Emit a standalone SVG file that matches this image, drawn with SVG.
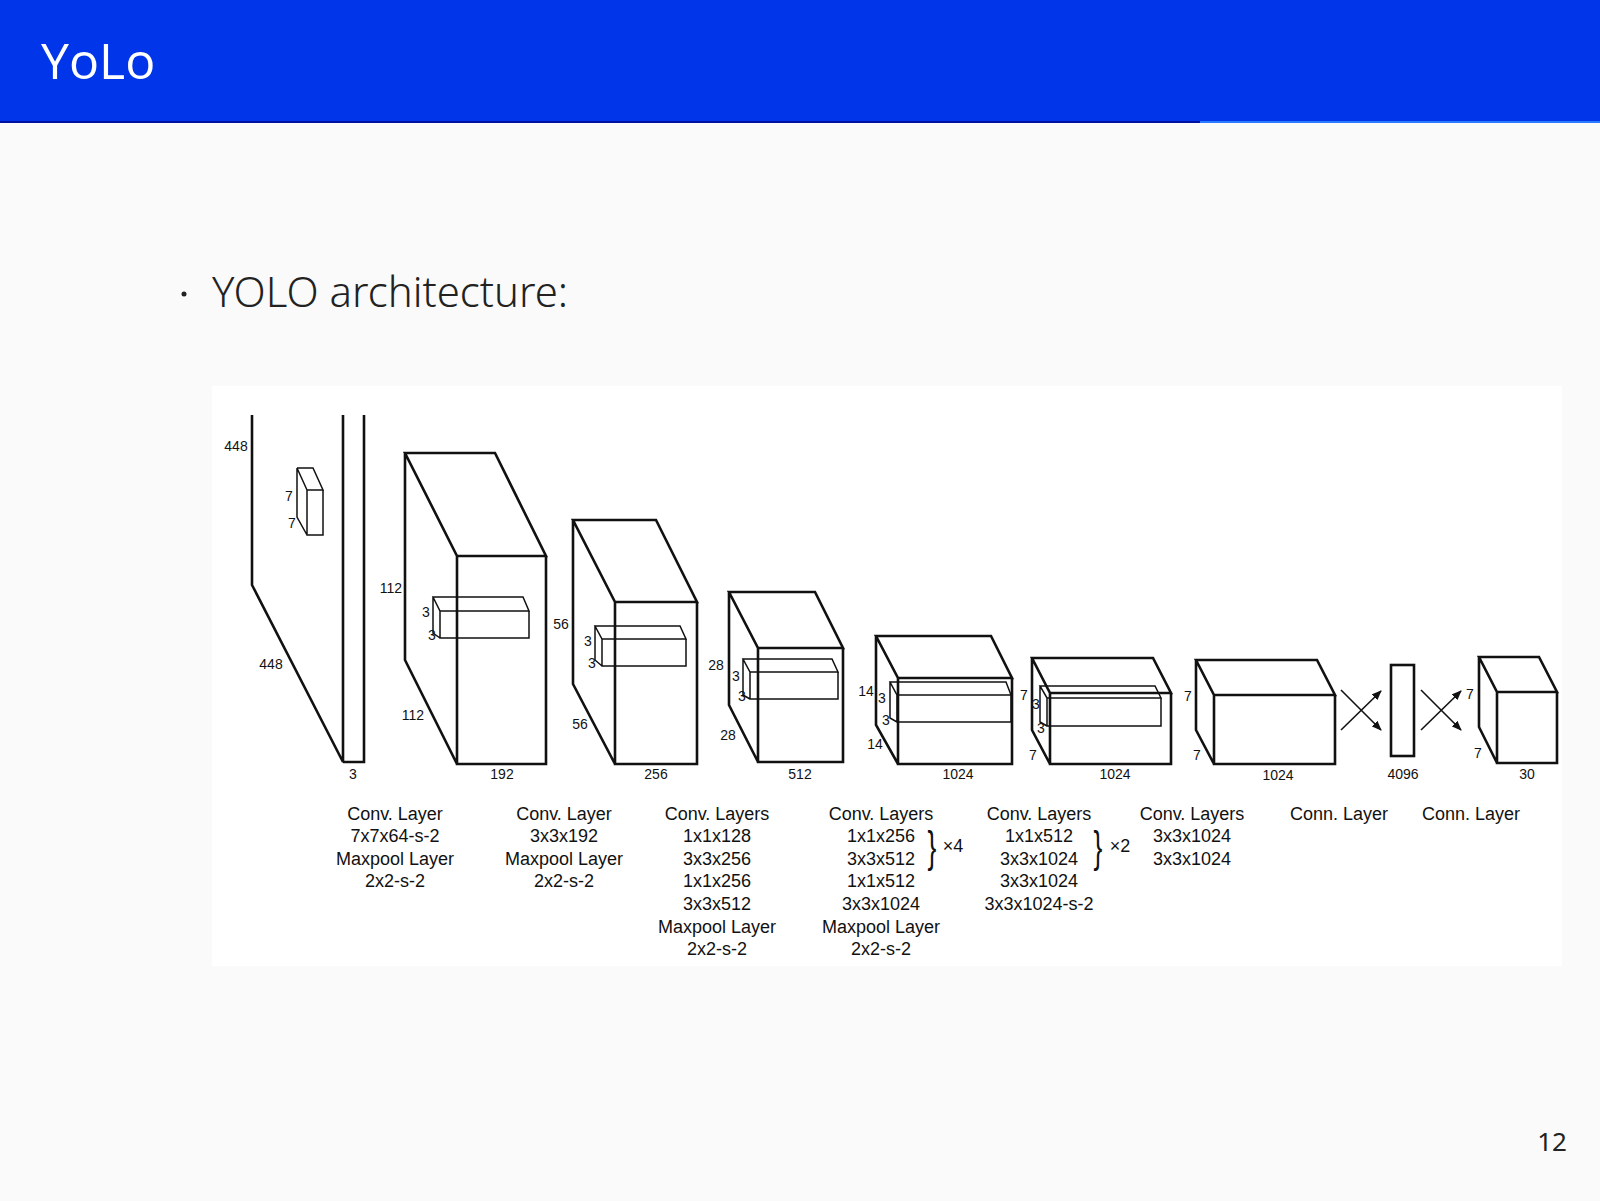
<svg xmlns="http://www.w3.org/2000/svg" width="1600" height="1201" viewBox="0 0 1600 1201">
<style>
.b{fill:none;stroke:#111;stroke-width:2.6;stroke-linejoin:miter}
.k{fill:none;stroke:#111;stroke-width:1.5}
.d{font-family:"Liberation Sans",Arial,sans-serif;font-size:14px;fill:#111;text-anchor:middle;dominant-baseline:central}
.c{font-family:"Liberation Sans",Arial,sans-serif;font-size:18px;fill:#111;text-anchor:middle}
.br{font-family:"Liberation Sans",Arial,sans-serif;font-size:44px;fill:#111;text-anchor:middle}
</style>
<defs><marker id="ah" markerWidth="10" markerHeight="8" refX="9" refY="4" orient="auto" markerUnits="userSpaceOnUse"><path d="M0,0L10,4L0,8z" fill="#111"/></marker></defs>
<rect width="1600" height="1201" fill="#fafafa"/>
<rect width="1600" height="122" fill="#0035ea"/>
<rect y="121" width="1200" height="2" fill="#0010a0"/>
<rect x="1200" y="121" width="400" height="2" fill="#2a7bff"/>
<text x="41" y="79" font-family="'Open Sans','Noto Sans',sans-serif" font-size="50" fill="#fff">YoLo</text>
<circle cx="184" cy="294" r="2.5" fill="#222"/>
<text x="212" y="307" font-family="'Noto Sans',sans-serif" font-weight="300" font-size="42" fill="#222" textLength="356" lengthAdjust="spacingAndGlyphs">YOLO architecture:</text>
<text x="1552" y="1151" font-family="'Noto Sans',sans-serif" font-size="26" fill="#222" text-anchor="middle">12</text>
<rect x="212" y="386" width="1350" height="580" fill="#fff"/>
<g id="input">
<path class="b" d="M252,415V585L343,762V415M364,415V762H343"/>
<path class="k" d="M297,468H313L323,490H307V535H323V490M297,468L307,490M297,468V517L307,535"/>
<text class="d" x="236" y="446">448</text><text class="d" x="271" y="664">448</text>
<text class="d" x="289" y="496">7</text><text class="d" x="292" y="523">7</text><text class="d" x="353" y="774">3</text>
</g>
<g id="block2">
<path class="b" d="M405,453H495L546,556H457ZM457,556V764H546V556M405,453V660L457,764"/>
<path class="k" d="M433,597H523L529,611H440ZM440,611V638H529V611M433,597V633L440,638"/>
<text class="d" x="391" y="588">112</text><text class="d" x="413" y="715">112</text>
<text class="d" x="426" y="612">3</text><text class="d" x="432" y="635">3</text><text class="d" x="502" y="774">192</text>
</g>
<g id="block3">
<path class="b" d="M573,520H656L697,602H615ZM615,602V764H697V602M573,520V684L615,764"/>
<path class="k" d="M595,626H680L686,639H602ZM602,639V666H686V639M595,626V660L602,666"/>
<text class="d" x="561" y="624">56</text><text class="d" x="580" y="724">56</text>
<text class="d" x="588" y="641">3</text><text class="d" x="592" y="663">3</text><text class="d" x="656" y="774">256</text>
</g>
<g id="block4">
<path class="b" d="M729,592H815L843,648H758ZM758,648V762H843V648M729,592V705L758,762"/>
<path class="k" d="M743,659H832L838,672H750ZM750,672V699H838V672M743,659V695L750,699"/>
<text class="d" x="716" y="665">28</text><text class="d" x="728" y="735">28</text>
<text class="d" x="736" y="676">3</text><text class="d" x="742" y="696">3</text><text class="d" x="800" y="774">512</text>
</g>
<g id="block5">
<path class="b" d="M876,636H991L1012,678H898ZM898,678V764H1012V678M876,636V725L898,764"/>
<path class="k" d="M890,682H1006L1011,695H897ZM897,695V722H1011V695M890,682V718L897,722"/>
<text class="d" x="866" y="691">14</text><text class="d" x="875" y="744">14</text>
<text class="d" x="882" y="698">3</text><text class="d" x="886" y="720">3</text><text class="d" x="958" y="774">1024</text>
</g>
<g id="block6">
<path class="b" d="M1032,658H1153L1171,693H1050ZM1050,693V764H1171V693M1032,658V730L1050,764"/>
<path class="k" d="M1040,686H1155L1161,698H1047ZM1047,698V726H1161V698M1040,686V722L1047,726"/>
<text class="d" x="1024" y="695">7</text><text class="d" x="1033" y="755">7</text>
<text class="d" x="1036" y="704">3</text><text class="d" x="1041" y="728">3</text><text class="d" x="1115" y="774">1024</text>
</g>
<g id="block7">
<path class="b" d="M1196,660H1317L1335,695H1214ZM1214,695V764H1335V695M1196,660V730L1214,764"/>
<text class="d" x="1188" y="696">7</text><text class="d" x="1197" y="755">7</text><text class="d" x="1278" y="775">1024</text>
</g>
<g id="fc4096">
<rect class="b" x="1391" y="665" width="23" height="91"/>
<text class="d" x="1403" y="774">4096</text>
</g>
<g id="out30">
<path class="b" d="M1479,657H1539L1557,692H1497ZM1497,692V763H1557V692M1479,657V727L1497,763"/>
<text class="d" x="1470" y="694">7</text><text class="d" x="1478" y="753">7</text><text class="d" x="1527" y="774">30</text>
</g>
<g id="connectors" stroke="#111" stroke-width="1.6">
<line x1="1341" y1="730" x2="1381" y2="691" marker-end="url(#ah)"/>
<line x1="1341" y1="690" x2="1381" y2="730" marker-end="url(#ah)"/>
<line x1="1421" y1="730" x2="1461" y2="691" marker-end="url(#ah)"/>
<line x1="1421" y1="690" x2="1461" y2="730" marker-end="url(#ah)"/>
</g>
<g id="captions">
<text class="c" x="395" y="820">Conv. Layer</text><text class="c" x="395" y="842">7x7x64-s-2</text><text class="c" x="395" y="865">Maxpool Layer</text><text class="c" x="395" y="887">2x2-s-2</text>
<text class="c" x="564" y="820">Conv. Layer</text><text class="c" x="564" y="842">3x3x192</text><text class="c" x="564" y="865">Maxpool Layer</text><text class="c" x="564" y="887">2x2-s-2</text>
<text class="c" x="717" y="820">Conv. Layers</text><text class="c" x="717" y="842">1x1x128</text><text class="c" x="717" y="865">3x3x256</text><text class="c" x="717" y="887">1x1x256</text><text class="c" x="717" y="910">3x3x512</text><text class="c" x="717" y="933">Maxpool Layer</text><text class="c" x="717" y="955">2x2-s-2</text>
<text class="c" x="881" y="820">Conv. Layers</text><text class="c" x="881" y="842">1x1x256</text><text class="c" x="881" y="865">3x3x512</text><text class="c" x="881" y="887">1x1x512</text><text class="c" x="881" y="910">3x3x1024</text><text class="c" x="881" y="933">Maxpool Layer</text><text class="c" x="881" y="955">2x2-s-2</text>
<text class="br" x="932" y="862" transform="translate(932 0) scale(0.6 1) translate(-932 0)">}</text><text class="c" x="953" y="852">×4</text>
<text class="br" x="1098" y="862" transform="translate(1098 0) scale(0.6 1) translate(-1098 0)">}</text><text class="c" x="1120" y="852">×2</text>
<text class="c" x="1039" y="820">Conv. Layers</text><text class="c" x="1039" y="842">1x1x512</text><text class="c" x="1039" y="865">3x3x1024</text><text class="c" x="1039" y="887">3x3x1024</text><text class="c" x="1039" y="910">3x3x1024-s-2</text>
<text class="c" x="1192" y="820">Conv. Layers</text><text class="c" x="1192" y="842">3x3x1024</text><text class="c" x="1192" y="865">3x3x1024</text>
<text class="c" x="1339" y="820">Conn. Layer</text>
<text class="c" x="1471" y="820">Conn. Layer</text>
</g>
</svg>
